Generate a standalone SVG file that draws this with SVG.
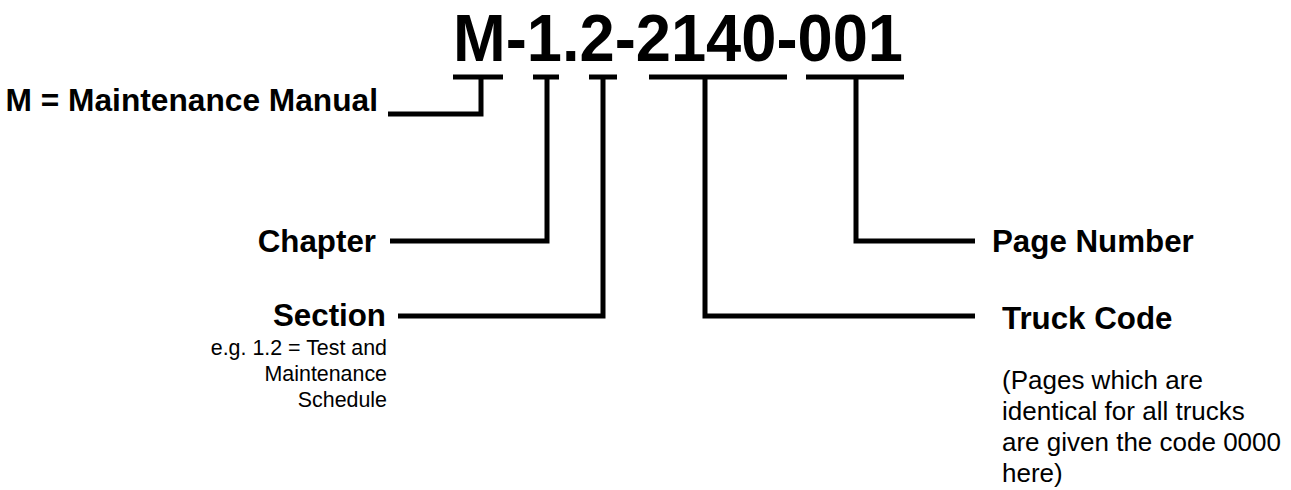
<svg xmlns="http://www.w3.org/2000/svg" width="1291" height="490" viewBox="0 0 1291 490">
<style>
.t{font-family:"Liberation Sans",Arial,sans-serif;fill:#000}
.b{font-weight:bold}
.lbl{font-size:31.3px;font-weight:bold}
.note{font-size:21.4px}
.para{font-size:26px}
.ln{fill:none;stroke:#000;stroke-width:5;stroke-linejoin:miter;stroke-linecap:butt}
</style>
<rect width="1291" height="490" fill="#fff"/>
<g id="code"><text class="t b" x="453" y="61" font-size="66" textLength="450" lengthAdjust="spacingAndGlyphs">M-1.2-2140-001</text></g>
<g id="connectors">
<path class="ln" d="M453 77H503M481 77V114H388"/>
<path class="ln" d="M533 77H559M547 77V241H390"/>
<path class="ln" d="M589 77H617M603 77V316H398"/>
<path class="ln" d="M649 77H787M705 77V316H975"/>
<path class="ln" d="M806 77H904M856 77V241H975"/>
</g>
<g id="manual"><text class="t lbl" x="378" y="111" text-anchor="end" style="font-size:31.7px">M = Maintenance Manual</text></g>
<g id="chapter"><text class="t lbl" x="376" y="252" text-anchor="end">Chapter</text></g>
<g id="section"><text class="t lbl" x="386" y="326" text-anchor="end">Section</text>
<text class="t note" text-anchor="end"><tspan x="387" y="355">e.g. 1.2 = Test and</tspan><tspan x="387" y="381">Maintenance</tspan><tspan x="387" y="407">Schedule</tspan></text></g>
<g id="page"><text class="t lbl" x="992" y="252">Page Number</text></g>
<g id="truck"><text class="t lbl" x="1002" y="329">Truck Code</text>
<text class="t para"><tspan x="1002" y="389">(Pages which are</tspan><tspan x="1002" y="420">identical for all trucks</tspan><tspan x="1002" y="451">are given the code 0000</tspan><tspan x="1002" y="482">here)</tspan></text></g>
</svg>
